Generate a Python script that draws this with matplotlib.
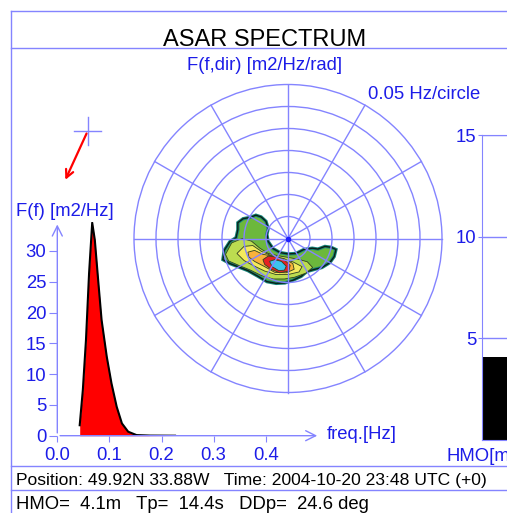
import numpy as np
import matplotlib.pyplot as plt
from matplotlib.patches import Circle, Polygon

plt.rcParams['font.family'] = ['Liberation Sans', 'DejaVu Sans']

# --- data ---
# 1D spectrum F(f) [m2/Hz]
freq = [0.043, 0.049, 0.055, 0.061, 0.067, 0.072, 0.079, 0.085, 0.095,
        0.104, 0.114, 0.124, 0.136, 0.152, 0.178, 0.226]
spec = [1.7, 7.4, 15.5, 26.4, 34.6, 31.8, 24.7, 18.8, 12.8,
        8.5, 4.7, 2.0, 0.65, 0.1, 0.02, 0.0]
freq_ticks = [0.0, 0.1, 0.2, 0.3, 0.4]
spec_ticks = [0, 5, 10, 15, 20, 25, 30]
hmo_ticks = [5, 10, 15]

# summary values
hmo = 4.1
tp = 14.4
ddp = 24.6
position = '49.92N 33.88W'
time_str = '2004-10-20 23:48 UTC (+0)'

# 2D spectrum contour outlines, (east, north) frequency components in Hz
lvl_outer = [(-0.114, 0.036), (-0.102, 0.045), (-0.086, 0.048), (-0.073, 0.053),
             (-0.061, 0.049), (-0.050, 0.039), (-0.045, 0.023), (-0.048, 0.009),
             (-0.045, -0.007), (-0.034, -0.023), (-0.018, -0.032), (0.0, -0.035),
             (0.018, -0.034), (0.036, -0.025), (0.055, -0.022), (0.068, -0.024),
             (0.084, -0.018), (0.098, -0.020), (0.109, -0.025), (0.105, -0.041),
             (0.095, -0.055), (0.077, -0.066), (0.061, -0.070), (0.043, -0.075),
             (0.030, -0.086), (0.011, -0.095), (-0.007, -0.101), (-0.027, -0.102),
             (-0.048, -0.098), (-0.068, -0.086), (-0.091, -0.073), (-0.114, -0.064),
             (-0.132, -0.057), (-0.148, -0.048), (-0.145, -0.027), (-0.132, -0.007),
             (-0.118, 0.002), (-0.114, 0.020)]
lvl_light = [(-0.142, -0.036), (-0.128, -0.010), (-0.104, 0.000), (-0.083, -0.006),
             (-0.064, -0.022), (-0.045, -0.034), (-0.023, -0.039), (0.0, -0.043),
             (0.023, -0.047), (0.044, -0.053), (0.056, -0.066), (0.040, -0.079),
             (0.015, -0.088), (-0.008, -0.092), (-0.034, -0.092), (-0.061, -0.084),
             (-0.085, -0.072), (-0.112, -0.061), (-0.135, -0.051)]
lvl_yellow = [(-0.116, -0.034), (-0.100, -0.018), (-0.080, -0.016), (-0.061, -0.029),
              (-0.038, -0.039), (-0.011, -0.047), (0.011, -0.053), (0.032, -0.064),
              (0.025, -0.076), (0.0, -0.082), (-0.027, -0.082), (-0.053, -0.074),
              (-0.078, -0.062), (-0.100, -0.050)]
lvl_orange = [(-0.091, -0.031), (-0.076, -0.027), (-0.057, -0.036), (-0.034, -0.040),
              (-0.008, -0.046), (0.011, -0.057), (0.014, -0.070), (-0.004, -0.078),
              (-0.030, -0.077), (-0.053, -0.064), (-0.076, -0.052), (-0.089, -0.042)]
lvl_red = [(-0.057, -0.048), (-0.045, -0.040), (-0.027, -0.042), (-0.008, -0.049),
           (0.005, -0.061), (0.002, -0.074), (-0.019, -0.078), (-0.038, -0.070),
           (-0.053, -0.059)]
lvl_cyan = [(-0.042, -0.052), (-0.030, -0.048), (-0.015, -0.052), (-0.004, -0.063),
            (-0.008, -0.072), (-0.021, -0.073), (-0.036, -0.064)]

W, H = 507, 513
BLUE_TXT = '#1c1ce8'
BLUE_LN = '#8484ff'
FS = 13.3


def box(x0, y0, x1, y1):
    # pixel box (top-left origin) -> figure fraction
    return [x0 / W, 1 - y1 / H, (x1 - x0) / W, (y1 - y0) / H]


fig = plt.figure(figsize=(W / 100, H / 100), dpi=100)

# background layer in pixel units: frame, texts, arrow
ax0 = fig.add_axes([0, 0, 1, 1])
ax0.set_xlim(0, W)
ax0.set_ylim(H, 0)
ax0.axis('off')
ax0.set_zorder(-1)
for y in [11, 48, 466, 490]:
    ax0.plot([11, W + 5], [y, y], color=BLUE_LN, lw=1)
ax0.plot([11, 11], [11, H + 5], color=BLUE_LN, lw=1)

ax0.text(265, 46, 'ASAR SPECTRUM', fontsize=17, ha='center', va='baseline')
ax0.text(265, 70, 'F(f,dir) [m2/Hz/rad]', fontsize=FS, color=BLUE_TXT,
         ha='center', va='baseline')
ax0.text(368, 99, '0.05 Hz/circle', fontsize=FS, color=BLUE_TXT, va='baseline')
ax0.text(16.5, 216, 'F(f) [m2/Hz]', fontsize=FS, color=BLUE_TXT, va='baseline')
ax0.text(326.5, 439, 'freq.[Hz]', fontsize=FS, color=BLUE_TXT, va='baseline')
ax0.text(447, 461, 'HMO[m]', fontsize=FS, color=BLUE_TXT, va='baseline')
ax0.text(16.5, 485, 'Position: %s   Time: %s' % (position, time_str),
         fontsize=12.6, va='baseline')
ax0.text(16.5, 509, 'HMO=  %.1fm   Tp=  %.1fs   DDp=  %.1f deg' % (hmo, tp, ddp),
         fontsize=FS, va='baseline')

# mean direction arrow (propagation = DDp + 180)
cx, cy, L = 87.7, 131, 56.5
th = np.deg2rad(ddp + 180)
ax0.plot([cx - 14, cx + 13], [cy, cy], color=BLUE_LN, lw=1)
ax0.plot([cx, cx], [cy - 14, cy + 14], color=BLUE_LN, lw=1)
ax0.annotate('', xy=(cx + L * np.sin(th), cy - L * np.cos(th)), xytext=(cx, cy),
             arrowprops=dict(arrowstyle='->', color='red', lw=1.6, mutation_scale=14))

# directional spectrum
axp = fig.add_axes(box(134, 84.5, 442, 392.5))
axp.set_facecolor('none')
axp.set_xlim(-0.35, 0.35)
axp.set_ylim(-0.35, 0.35)
axp.axis('off')
fills = [(lvl_light, '#bcdc50'), (lvl_yellow, '#f4ea5c'), (lvl_orange, '#f8b23a'),
         (lvl_red, '#e62222'), (lvl_cyan, '#3cc4ec')]
axp.add_patch(Polygon(lvl_outer, closed=True, fc='#6cb83c', ec='#17867c', lw=2.4, zorder=2))
axp.add_patch(Polygon(lvl_outer, closed=True, fill=False, ec='#0c2014', lw=1.0, zorder=2))
for pts, col in fills:
    axp.add_patch(Polygon(pts, closed=True, fc=col, ec='#304020', lw=0.6, zorder=2))
R = 0.35
for r in np.arange(0.05, R + 0.001, 0.05):
    axp.add_patch(Circle((0, 0), r, fill=False, ec=BLUE_LN, lw=1, zorder=3, clip_on=False))
for ang in range(0, 180, 30):
    t = np.deg2rad(ang)
    axp.plot([-R * np.sin(t), R * np.sin(t)], [-R * np.cos(t), R * np.cos(t)],
             color=BLUE_LN, lw=1, zorder=3, clip_on=False)
axp.plot(0, 0, 'o', color='#2020ff', ms=3, zorder=4)

# 1D spectrum
axs = fig.add_axes(box(57.3, 221.7, 320, 435.7))
axs.set_facecolor('none')
axs.set_xlim(0, 262.7 / 521)
axs.set_ylim(0, 214 / 6.157)
axs.fill_between(freq, spec, color='red', lw=0)
axs.plot(freq, spec, color='k', lw=1.5)
for s in axs.spines.values():
    s.set_visible(False)
axs.annotate('', xy=(1, 0), xytext=(0, 0), xycoords='axes fraction',
             arrowprops=dict(arrowstyle='->', color=BLUE_LN, lw=1, mutation_scale=18))
axs.annotate('', xy=(0, 1), xytext=(0, 0), xycoords='axes fraction',
             arrowprops=dict(arrowstyle='->', color=BLUE_LN, lw=1, mutation_scale=18))
axs.set_xticks(freq_ticks, ['%.1f' % v for v in freq_ticks])
axs.set_yticks(spec_ticks, [str(v) for v in spec_ticks])
axs.tick_params(axis='x', colors=BLUE_LN, labelcolor=BLUE_TXT, labelsize=FS,
                length=4, pad=4)
axs.tick_params(axis='y', colors=BLUE_LN, labelcolor=BLUE_TXT, labelsize=FS,
                length=6, pad=2)

# HMO bar
axh = fig.add_axes(box(482, 135, 545, 440))
axh.set_facecolor('none')
axh.set_xlim(0, 1)
axh.set_ylim(0, 15)
axh.bar(0.5, hmo, width=1, color='k')
axh.set_xticks([])
axh.set_yticks(hmo_ticks, [str(v) for v in hmo_ticks])
axh.tick_params(axis='y', colors=BLUE_LN, labelcolor=BLUE_TXT, labelsize=FS,
                length=3, pad=1)
axh.grid(axis='y', color=BLUE_LN, lw=1)
for s in axh.spines.values():
    s.set_color(BLUE_LN)

plt.savefig('out.png', dpi=100)
